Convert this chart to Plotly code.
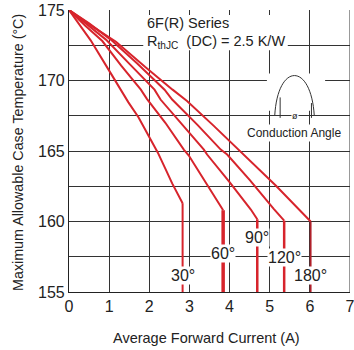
import plotly.graph_objects as go

# ---- data ----
c30_x = [0, 0.54, 1.0, 1.25, 1.48, 1.73, 2.0, 2.21, 2.4, 2.57, 2.83]
c30_y = [175, 172.85, 170.7, 169.5, 168.45, 167.4, 166.0, 164.9, 163.75, 162.7, 161.3]
c60_x = [0, 0.4, 0.83, 1.3, 1.79, 1.94, 2.4, 2.86, 2.98, 3.4, 3.84]
c60_y = [175, 173.9, 172.8, 171.05, 169.35, 168.7, 167.0, 165.1, 164.7, 162.8, 160.8]
c90_x = [0, 0.45, 0.92, 1.5, 2.13, 2.28, 2.8, 3.36, 3.44, 4.0, 4.53, 4.69]
c90_y = [175, 174.0, 172.9, 171.2, 169.35, 168.65, 166.95, 165.1, 164.75, 162.8, 160.85, 160.16]
c120_x = [0, 0.5, 1.04, 1.7, 2.38, 2.57, 3.2, 3.78, 3.94, 4.5, 5.1, 5.36]
c120_y = [175, 174.05, 172.9, 171.2, 169.35, 168.65, 166.85, 165.1, 164.75, 162.95, 160.9, 160.06]
c180_x = [0, 0.6, 1.17, 1.9, 2.58, 2.94, 3.6, 4.23, 4.7, 5.15, 5.73, 6.02]
c180_y = [175, 173.8, 172.75, 170.95, 169.35, 168.55, 166.8, 165.1, 163.8, 162.55, 160.85, 160.0]

curve_labels = ["30°", "60°", "90°", "120°", "180°"]
label_y = [156.15, 157.75, 158.87, 157.45, 156.15]
x_ticks = [0, 1, 2, 3, 4, 5, 6, 7]
y_ticks = [155, 160, 165, 170, 175]
x_title = "Average Forward Current (A)"
y_title = "Maximum Allowable Case Temperature (°C)"

RED = "#d7242c"
GRID = "#333"
FONT = "Liberation Sans, Arial, sans-serif"
curves = [(c30_x, c30_y), (c60_x, c60_y), (c90_x, c90_y), (c120_x, c120_y), (c180_x, c180_y)]
vwidths = [2, 3.5, 2.5, 2.5, 1.8]
vcolors = [RED, RED, RED, RED, "#b0202a"]

fig = go.Figure()
for (xs, ys), w, col in zip(curves, vwidths, vcolors):
    fig.add_trace(go.Scatter(x=xs, y=ys, mode="lines",
                             line=dict(color=RED, width=2), hoverinfo="skip"))
    fig.add_trace(go.Scatter(x=[xs[-1], xs[-1]], y=[ys[-1], 155], mode="lines",
                             line=dict(color=col, width=w), hoverinfo="skip"))

annotations = []
for (xs, ys), lab, ly in zip(curves, curve_labels, label_y):
    annotations.append(dict(x=xs[-1], y=ly, text=lab, showarrow=False,
                            font=dict(size=16, color="#222", family=FONT),
                            bgcolor="white", borderpad=0, xanchor="center", yanchor="middle"))

annotations += [
    dict(x=1.9, y=174.08, text="6F(R) Series", showarrow=False, xanchor="left", yanchor="middle",
         font=dict(size=14.5, color="#222", family=FONT)),
    dict(x=1.9, y=172.75, text="R<sub>thJC</sub>  (DC) = 2.5 K/W", showarrow=False,
         xanchor="left", yanchor="middle", font=dict(size=14.5, color="#222", family=FONT)),
    dict(x=5.6, y=166.25, text="Conduction Angle", showarrow=False, xanchor="center",
         yanchor="middle", bgcolor="white", borderpad=1,
         font=dict(size=12, color="#222", family=FONT)),
    dict(x=5.64, y=167.45, text="ø", showarrow=False, xanchor="center", yanchor="middle",
         bgcolor="white", borderpad=0, font=dict(size=9, color="#222", family=FONT)),
    # axis titles
    dict(xref="paper", yref="paper", x=0.491, y=-0.163, text=x_title, showarrow=False,
         xanchor="center", yanchor="middle", font=dict(size=14.5, color="#222", family=FONT)),
    dict(xref="paper", yref="paper", x=-0.1815, y=0.4965, text=y_title, showarrow=False,
         textangle=-90, xanchor="center", yanchor="middle",
         font=dict(size=14.3, color="#222", family=FONT)),
]

shapes = [
    # grid line at the right edge (x = 7)
    dict(type="line", xref="x", yref="y", x0=7, x1=7, y0=155, y1=175,
         line=dict(color=GRID, width=1), layer="between"),
    # white boxes hiding grid behind text / inset
    dict(type="rect", xref="x", yref="y", x0=1.85, x1=5.45, y0=172.15, y1=174.65,
         fillcolor="white", line=dict(width=0), layer="between"),
    dict(type="rect", xref="x", yref="y", x0=4.93, x1=6.38, y0=167.85, y1=170.5,
         fillcolor="white", line=dict(width=0), layer="between"),
    # inset bell curve
    dict(type="path", xref="x", yref="y",
         path="M 5.125,167.5 C 5.2,171.3 6.03,171.3 6.11,167.5",
         line=dict(color="#333", width=1), layer="above"),
    dict(type="line", xref="x", yref="y", x0=5.26, x1=5.26, y0=167.35, y1=168.8,
         line=dict(color="#333", width=1), layer="above"),
    dict(type="line", xref="x", yref="y", x0=6.04, x1=6.04, y0=167.35, y1=168.4,
         line=dict(color="#333", width=1), layer="above"),
]

fig.update_layout(
    width=354, height=350,
    margin=dict(l=69, r=4, t=10, b=58),
    paper_bgcolor="white", plot_bgcolor="white",
    showlegend=False,
    font=dict(family=FONT, color="#222", size=15),
    annotations=annotations, shapes=shapes,
    xaxis=dict(range=[0, 7], tickvals=x_ticks, ticktext=[str(v) for v in x_ticks],
               showgrid=True, gridcolor=GRID, gridwidth=1, automargin=False,
               showline=True, linecolor="#222", linewidth=1.2, ticks="",
               zeroline=False, tickfont=dict(size=16, color="#222"),
               ticklabeloverflow="allow"),
    yaxis=dict(range=[155, 175], tickvals=y_ticks, ticktext=[str(v) for v in y_ticks],
               showgrid=True, gridcolor=GRID, gridwidth=1, automargin=False,
               minor=dict(dtick=2.5, showgrid=True, gridcolor=GRID, gridwidth=1),
               showline=True, linecolor="#222", linewidth=1.2, ticks="",
               zeroline=False, tickfont=dict(size=16, color="#222"),
               ticklabeloverflow="allow"),
)

fig.write_html("out.html")
